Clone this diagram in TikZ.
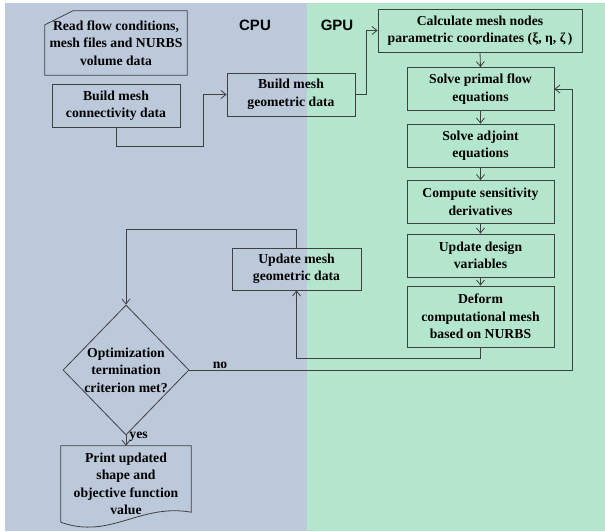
\documentclass[tikz,border=0pt]{standalone}
\usepackage{fontspec}
\setmainfont{Liberation Serif}
\newfontfamily\sidefont{Liberation Sans}
\usepackage{tikz}
\usetikzlibrary{arrows.meta, positioning, calc, shapes.geometric}
\definecolor{cpuback}{HTML}{BCC9DB}
\definecolor{gpuback}{HTML}{B4E6CD}
\definecolor{edge}{HTML}{404040}

\begin{document}
\begin{tikzpicture}[
    x=1pt, y=-1pt,
    >={Straight Barb[length=5pt, width=8pt]},
    every node/.style={font=\fontsize{13.7}{17.5}\selectfont\bfseries, text=black},
    block/.style={draw=edge, line width=0.8pt, minimum width=128pt, minimum height=43pt, align=center, inner sep=1pt},
    gpublock/.style={block, minimum width=147pt},
    outline/.style={draw=edge, line width=0.8pt},
    arrow/.style={->, line width=0.8pt, edge},
    side/.style={font=\sidefont\fontsize{15}{18}\selectfont\bfseries},
]
    \useasboundingbox (0,0) rectangle (605,531);
    \fill[cpuback] (5,3) rectangle (307,531);
    \fill[gpuback] (307,3) rectangle (605,531);

    \node[side] (cpu) at (255,25) {CPU};
    \node[side] (gpu) at (337,25) {GPU};

    % CPU side
    \node[minimum width=142pt, minimum height=64pt, align=center] (read) at (116,43) {Read flow conditions,\\mesh files and NURBS\\volume data};
    \draw[outline] ([yshift=-14pt]read.north west) -- ([xshift=28pt]read.north west) -- (read.north east) -- (read.south east) -- (read.south west) -- cycle;
    \node[block] (conn) at (116,105.5) {Build mesh\\connectivity data};
    \node[block] (geom) at (291,94.5) {Build mesh\\geometric data};
    \node[block, minimum width=129pt, minimum height=42pt] (updmesh) at (296.5,269) {Update mesh\\geometric data};
    \node[outline, shape=diamond, minimum width=126pt, minimum height=130pt, inner sep=0pt,
        label={[align=center]center:Optimization\\termination\\criterion met?}] (decide) at (126,370) {};
    \node[minimum width=130pt, minimum height=76pt, align=center] (print) at (126,484) {Print updated\\shape and\\objective function\\value};
    \draw[outline] (print.south west) -- (print.north west) -- (print.north east) -- ([yshift=10pt]print.south east) .. controls (140,503) and (110,540) .. (print.south west);

    % GPU side
    \node[block, minimum width=204pt] (calc) at (480,30.5) {Calculate mesh nodes\\parametric coordinates (ξ, η, ζ\,)};
    \node[gpublock] (primal) at (480.5,89) {Solve primal flow\\equations};
    \node[gpublock] (adjoint) at (480.5,145.5) {Solve adjoint\\equations};
    \node[gpublock] (sens) at (480.5,202) {Compute sensitivity\\derivatives};
    \node[gpublock] (design) at (480.5,255.5) {Update design\\variables};
    \node[gpublock, minimum height=61pt] (deform) at (480.5,316.5) {Deform\\computational mesh\\based on NURBS};

    \coordinate (j1) at (203,146);
    \coordinate (j2) at (366,94.5);
    \coordinate (j3) at (480.5,358);
    \coordinate (j4) at (296.5,229);
    \coordinate (j5) at (572,370);

    \draw[arrow] (conn.south) |- (j1) |- (geom.west);
    \draw[arrow] (geom.east) -- (j2) |- (calc.west);
    \draw[arrow] (calc.south) -- (primal.north);
    \draw[arrow] (primal) -- (adjoint);
    \draw[arrow] (adjoint) -- (sens);
    \draw[arrow] (sens) -- (design);
    \draw[arrow] (design) -- (deform);
    \draw[arrow] (deform.south) -- (j3) -| (updmesh.south);
    \draw[arrow] (updmesh.north) -- (j4) -| (decide.north);
    \draw[arrow] (decide.east) -- node[pos=0.08, above, inner sep=1pt] (nolbl) {no} (j5) |- (primal.east);
    \draw[arrow] (decide.south) -- node[right, pos=0.1, inner sep=3pt] (yeslbl) {yes} (print.north);
\end{tikzpicture}
\end{document}
